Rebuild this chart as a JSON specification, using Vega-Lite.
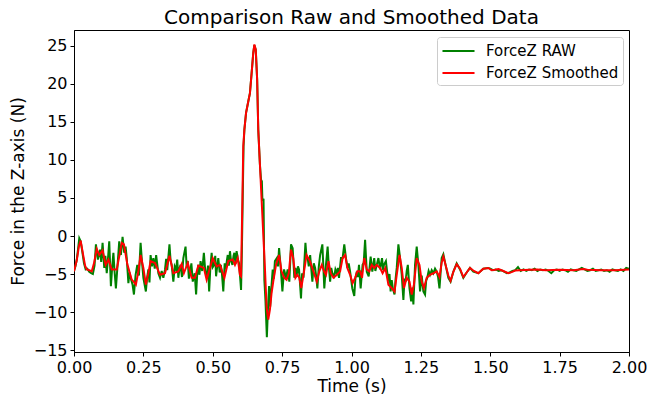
{
  "$schema": "https://vega.github.io/schema/vega-lite/v6.json",
  "autosize": "none",
  "width": 555,
  "height": 322,
  "padding": {"left": 74, "top": 30, "right": 34, "bottom": 45},
  "background": "white",
  "title": {"text": "Comparison Raw and Smoothed Data", "fontSize": 20, "fontWeight": "normal", "font": "DejaVu Sans", "color": "black", "offset": 2},
  "datasets": {
    "raw": [
      {"t":0.000,"v":-4.6},{"t":0.005,"v":-4.0},{"t":0.010,"v":-3.1},{"t":0.015,"v":-1.6},{"t":0.019,"v":-0.3},{"t":0.024,"v":-0.7},{"t":0.030,"v":-2.1},{"t":0.036,"v":-3.6},{"t":0.042,"v":-4.4},{"t":0.048,"v":-4.3},{"t":0.055,"v":-4.7},{"t":0.062,"v":-4.9},{"t":0.068,"v":-5.0},{"t":0.074,"v":-3.9},{"t":0.079,"v":-1.1},{"t":0.086,"v":-3.1},{"t":0.094,"v":-1.8},{"t":0.098,"v":-3.4},{"t":0.103,"v":-0.9},{"t":0.109,"v":-4.2},{"t":0.113,"v":-2.6},{"t":0.118,"v":-4.9},{"t":0.122,"v":-3.2},{"t":0.127,"v":-0.7},{"t":0.133,"v":-6.6},{"t":0.138,"v":-3.9},{"t":0.142,"v":-2.2},{"t":0.146,"v":-4.6},{"t":0.151,"v":-6.9},{"t":0.157,"v":-3.8},{"t":0.163,"v":-0.7},{"t":0.169,"v":-2.5},{"t":0.175,"v":-0.1},{"t":0.181,"v":-2.2},{"t":0.186,"v":-1.4},{"t":0.190,"v":-2.9},{"t":0.196,"v":-6.2},{"t":0.200,"v":-4.8},{"t":0.204,"v":-5.5},{"t":0.211,"v":-6.4},{"t":0.216,"v":-7.7},{"t":0.222,"v":-5.1},{"t":0.228,"v":-3.8},{"t":0.234,"v":-5.2},{"t":0.240,"v":-0.9},{"t":0.245,"v":-3.4},{"t":0.250,"v":-5.5},{"t":0.259,"v":-7.3},{"t":0.263,"v":-5.6},{"t":0.268,"v":-4.4},{"t":0.272,"v":-6.1},{"t":0.276,"v":-2.5},{"t":0.281,"v":-4.0},{"t":0.286,"v":-2.9},{"t":0.291,"v":-4.3},{"t":0.296,"v":-2.5},{"t":0.304,"v":-4.9},{"t":0.310,"v":-5.5},{"t":0.316,"v":-4.6},{"t":0.322,"v":-5.5},{"t":0.328,"v":-4.4},{"t":0.332,"v":-3.0},{"t":0.336,"v":-4.5},{"t":0.344,"v":-1.1},{"t":0.348,"v":-3.2},{"t":0.352,"v":-3.8},{"t":0.358,"v":-6.0},{"t":0.363,"v":-4.0},{"t":0.368,"v":-4.4},{"t":0.372,"v":-3.1},{"t":0.376,"v":-5.5},{"t":0.380,"v":-4.3},{"t":0.384,"v":-3.8},{"t":0.389,"v":-5.4},{"t":0.394,"v":-2.9},{"t":0.402,"v":-1.4},{"t":0.406,"v":-4.1},{"t":0.410,"v":-3.3},{"t":0.414,"v":-5.6},{"t":0.418,"v":-4.9},{"t":0.423,"v":-3.6},{"t":0.428,"v":-6.0},{"t":0.435,"v":-4.9},{"t":0.440,"v":-7.7},{"t":0.444,"v":-5.0},{"t":0.448,"v":-3.8},{"t":0.452,"v":-5.1},{"t":0.456,"v":-3.3},{"t":0.462,"v":-4.6},{"t":0.468,"v":-2.2},{"t":0.473,"v":-4.6},{"t":0.478,"v":-5.3},{"t":0.483,"v":-3.9},{"t":0.487,"v":-7.3},{"t":0.491,"v":-4.4},{"t":0.496,"v":-2.2},{"t":0.500,"v":-4.1},{"t":0.505,"v":-3.8},{"t":0.509,"v":-2.6},{"t":0.512,"v":-5.3},{"t":0.516,"v":-4.0},{"t":0.520,"v":-2.9},{"t":0.525,"v":-4.8},{"t":0.529,"v":-3.8},{"t":0.533,"v":-4.9},{"t":0.538,"v":-7.3},{"t":0.543,"v":-3.6},{"t":0.547,"v":-4.4},{"t":0.551,"v":-3.2},{"t":0.554,"v":-2.5},{"t":0.558,"v":-3.9},{"t":0.562,"v":-2.0},{"t":0.566,"v":-3.3},{"t":0.571,"v":-3.8},{"t":0.575,"v":-2.6},{"t":0.578,"v":-2.2},{"t":0.582,"v":-3.7},{"t":0.586,"v":-2.0},{"t":0.590,"v":-3.0},{"t":0.595,"v":-3.6},{"t":0.602,"v":-7.1},{"t":0.605,"v":-2.0},{"t":0.608,"v":5.0},{"t":0.611,"v":11.8},{"t":0.614,"v":14.0},{"t":0.620,"v":16.2},{"t":0.628,"v":17.7},{"t":0.634,"v":18.8},{"t":0.640,"v":21.4},{"t":0.646,"v":24.1},{"t":0.650,"v":25.1},{"t":0.655,"v":24.5},{"t":0.660,"v":20.6},{"t":0.664,"v":14.0},{"t":0.670,"v":9.4},{"t":0.674,"v":7.4},{"t":0.677,"v":7.2},{"t":0.679,"v":4.6},{"t":0.683,"v":4.9},{"t":0.686,"v":-5.8},{"t":0.690,"v":-8.5},{"t":0.695,"v":-13.3},{"t":0.699,"v":-9.5},{"t":0.703,"v":-6.6},{"t":0.707,"v":-9.3},{"t":0.711,"v":-6.9},{"t":0.716,"v":-4.4},{"t":0.720,"v":-5.6},{"t":0.724,"v":-3.3},{"t":0.731,"v":-2.9},{"t":0.735,"v":-4.0},{"t":0.739,"v":-1.6},{"t":0.745,"v":-4.2},{"t":0.751,"v":-7.3},{"t":0.757,"v":-4.4},{"t":0.764,"v":-5.5},{"t":0.770,"v":-4.4},{"t":0.776,"v":-6.0},{"t":0.782,"v":-1.1},{"t":0.788,"v":-1.6},{"t":0.794,"v":-5.5},{"t":0.798,"v":-4.2},{"t":0.803,"v":-5.3},{"t":0.807,"v":-4.0},{"t":0.811,"v":-4.4},{"t":0.818,"v":-8.2},{"t":0.822,"v":-4.9},{"t":0.827,"v":-5.5},{"t":0.834,"v":-0.9},{"t":0.838,"v":-2.8},{"t":0.842,"v":-2.9},{"t":0.846,"v":-4.0},{"t":0.851,"v":-2.5},{"t":0.855,"v":-4.3},{"t":0.859,"v":-6.0},{"t":0.864,"v":-3.6},{"t":0.869,"v":-4.2},{"t":0.873,"v":-5.4},{"t":0.877,"v":-6.9},{"t":0.882,"v":-4.1},{"t":0.887,"v":-2.5},{"t":0.895,"v":-1.1},{"t":0.902,"v":-6.9},{"t":0.908,"v":-3.8},{"t":0.914,"v":-1.4},{"t":0.918,"v":-3.9},{"t":0.923,"v":-6.0},{"t":0.927,"v":-4.2},{"t":0.931,"v":-4.9},{"t":0.938,"v":-5.3},{"t":0.942,"v":-4.4},{"t":0.947,"v":-4.9},{"t":0.951,"v":-4.2},{"t":0.955,"v":-5.5},{"t":0.962,"v":-2.9},{"t":0.968,"v":-2.9},{"t":0.974,"v":-1.1},{"t":0.980,"v":-2.9},{"t":0.986,"v":-4.2},{"t":0.990,"v":-3.6},{"t":0.995,"v":-4.7},{"t":1.003,"v":-6.9},{"t":1.010,"v":-7.9},{"t":1.014,"v":-5.6},{"t":1.019,"v":-4.7},{"t":1.023,"v":-5.4},{"t":1.027,"v":-3.8},{"t":1.033,"v":-6.9},{"t":1.040,"v":-3.8},{"t":1.044,"v":-3.5},{"t":1.049,"v":-0.5},{"t":1.055,"v":-4.7},{"t":1.062,"v":-5.3},{"t":1.069,"v":-2.7},{"t":1.075,"v":-4.7},{"t":1.082,"v":-2.9},{"t":1.086,"v":-4.6},{"t":1.091,"v":-3.8},{"t":1.097,"v":-2.9},{"t":1.103,"v":-4.4},{"t":1.110,"v":-2.9},{"t":1.114,"v":-4.5},{"t":1.117,"v":-3.8},{"t":1.124,"v":-3.3},{"t":1.128,"v":-4.6},{"t":1.133,"v":-6.0},{"t":1.137,"v":-5.0},{"t":1.141,"v":-7.3},{"t":1.145,"v":-5.8},{"t":1.149,"v":-6.9},{"t":1.155,"v":-7.7},{"t":1.159,"v":-5.6},{"t":1.163,"v":-4.2},{"t":1.169,"v":-1.1},{"t":1.175,"v":-2.9},{"t":1.181,"v":-5.1},{"t":1.187,"v":-8.4},{"t":1.191,"v":-5.6},{"t":1.195,"v":-6.0},{"t":1.199,"v":-4.6},{"t":1.203,"v":-3.8},{"t":1.209,"v":-6.9},{"t":1.215,"v":-8.6},{"t":1.219,"v":-6.8},{"t":1.223,"v":-9.0},{"t":1.229,"v":-3.8},{"t":1.235,"v":-1.4},{"t":1.241,"v":-3.8},{"t":1.247,"v":-7.3},{"t":1.253,"v":-5.2},{"t":1.259,"v":-7.3},{"t":1.265,"v":-7.7},{"t":1.269,"v":-5.9},{"t":1.273,"v":-5.5},{"t":1.278,"v":-4.6},{"t":1.283,"v":-5.1},{"t":1.289,"v":-4.5},{"t":1.295,"v":-4.9},{"t":1.301,"v":-4.3},{"t":1.307,"v":-4.7},{"t":1.312,"v":-5.4},{"t":1.317,"v":-6.9},{"t":1.325,"v":-2.9},{"t":1.331,"v":-2.4},{"t":1.339,"v":-3.8},{"t":1.349,"v":-5.5},{"t":1.357,"v":-6.0},{"t":1.367,"v":-4.7},{"t":1.379,"v":-3.6},{"t":1.391,"v":-4.4},{"t":1.403,"v":-5.5},{"t":1.415,"v":-4.8},{"t":1.427,"v":-4.2},{"t":1.439,"v":-4.7},{"t":1.457,"v":-4.9},{"t":1.475,"v":-4.3},{"t":1.493,"v":-4.2},{"t":1.50,"v":-4.3},{"t":1.51,"v":-4.5},{"t":1.52,"v":-4.4},{"t":1.53,"v":-4.6},{"t":1.54,"v":-4.5},{"t":1.55,"v":-4.7},{"t":1.56,"v":-4.9},{"t":1.57,"v":-4.8},{"t":1.58,"v":-4.6},{"t":1.59,"v":-4.5},{"t":1.60,"v":-4.1},{"t":1.61,"v":-4.6},{"t":1.62,"v":-4.4},{"t":1.63,"v":-4.6},{"t":1.64,"v":-4.4},{"t":1.65,"v":-4.5},{"t":1.66,"v":-4.3},{"t":1.67,"v":-4.6},{"t":1.68,"v":-4.4},{"t":1.69,"v":-4.5},{"t":1.70,"v":-4.4},{"t":1.71,"v":-4.6},{"t":1.72,"v":-4.9},{"t":1.73,"v":-4.5},{"t":1.74,"v":-4.4},{"t":1.75,"v":-4.6},{"t":1.76,"v":-4.4},{"t":1.77,"v":-4.5},{"t":1.78,"v":-4.7},{"t":1.79,"v":-4.4},{"t":1.80,"v":-4.5},{"t":1.81,"v":-4.6},{"t":1.82,"v":-4.4},{"t":1.83,"v":-4.2},{"t":1.84,"v":-4.4},{"t":1.85,"v":-4.6},{"t":1.86,"v":-4.5},{"t":1.87,"v":-4.3},{"t":1.88,"v":-4.6},{"t":1.89,"v":-4.5},{"t":1.90,"v":-4.4},{"t":1.91,"v":-4.6},{"t":1.92,"v":-4.5},{"t":1.93,"v":-4.7},{"t":1.94,"v":-4.4},{"t":1.95,"v":-4.5},{"t":1.96,"v":-4.6},{"t":1.97,"v":-4.4},{"t":1.98,"v":-4.6},{"t":1.99,"v":-4.2},{"t":2.00,"v":-4.3}
    ],
    "smooth": [
      {"t":0.000,"v":-4.65},{"t":0.010,"v":-3.2},{"t":0.018,"v":-1.3},{"t":0.024,"v":-0.6},{"t":0.032,"v":-2.3},{"t":0.040,"v":-3.9},{"t":0.046,"v":-4.4},{"t":0.055,"v":-4.5},{"t":0.064,"v":-4.65},{"t":0.072,"v":-3.6},{"t":0.082,"v":-1.7},{"t":0.091,"v":-2.5},{"t":0.103,"v":-1.9},{"t":0.114,"v":-3.8},{"t":0.124,"v":-3.1},{"t":0.136,"v":-4.4},{"t":0.154,"v":-4.4},{"t":0.164,"v":-2.5},{"t":0.172,"v":-0.9},{"t":0.180,"v":-1.1},{"t":0.192,"v":-3.7},{"t":0.208,"v":-5.75},{"t":0.214,"v":-5.97},{"t":0.223,"v":-6.4},{"t":0.232,"v":-4.65},{"t":0.240,"v":-2.5},{"t":0.250,"v":-4.2},{"t":0.259,"v":-6.4},{"t":0.268,"v":-4.9},{"t":0.276,"v":-3.3},{"t":0.292,"v":-3.55},{"t":0.310,"v":-5.1},{"t":0.328,"v":-4.9},{"t":0.344,"v":-2.6},{"t":0.358,"v":-4.9},{"t":0.376,"v":-4.65},{"t":0.388,"v":-3.7},{"t":0.396,"v":-4.9},{"t":0.410,"v":-3.55},{"t":0.424,"v":-5.5},{"t":0.436,"v":-5.5},{"t":0.448,"v":-3.9},{"t":0.468,"v":-4.2},{"t":0.478,"v":-5.75},{"t":0.500,"v":-2.9},{"t":0.514,"v":-4.0},{"t":0.526,"v":-3.8},{"t":0.542,"v":-5.5},{"t":0.556,"v":-3.3},{"t":0.572,"v":-3.1},{"t":0.580,"v":-3.8},{"t":0.590,"v":-2.9},{"t":0.598,"v":-5.1},{"t":0.602,"v":-5.3},{"t":0.607,"v":5.2},{"t":0.610,"v":11.8},{"t":0.614,"v":14.0},{"t":0.620,"v":16.2},{"t":0.628,"v":17.7},{"t":0.634,"v":18.8},{"t":0.640,"v":21.4},{"t":0.646,"v":24.1},{"t":0.650,"v":25.2},{"t":0.655,"v":24.5},{"t":0.660,"v":20.6},{"t":0.664,"v":14.0},{"t":0.670,"v":9.4},{"t":0.676,"v":4.8},{"t":0.682,"v":0.3},{"t":0.688,"v":-4.2},{"t":0.694,"v":-9.3},{"t":0.700,"v":-11.0},{"t":0.706,"v":-9.7},{"t":0.712,"v":-7.5},{"t":0.718,"v":-6.0},{"t":0.728,"v":-3.8},{"t":0.739,"v":-2.5},{"t":0.748,"v":-4.65},{"t":0.758,"v":-5.5},{"t":0.766,"v":-5.75},{"t":0.774,"v":-4.9},{"t":0.782,"v":-1.8},{"t":0.790,"v":-2.9},{"t":0.798,"v":-5.5},{"t":0.805,"v":-5.1},{"t":0.812,"v":-5.5},{"t":0.819,"v":-6.85},{"t":0.829,"v":-4.65},{"t":0.838,"v":-2.5},{"t":0.850,"v":-3.3},{"t":0.863,"v":-4.65},{"t":0.875,"v":-6.0},{"t":0.884,"v":-4.65},{"t":0.893,"v":-3.8},{"t":0.901,"v":-4.65},{"t":0.908,"v":-5.1},{"t":0.917,"v":-3.3},{"t":0.925,"v":-4.9},{"t":0.935,"v":-5.5},{"t":0.947,"v":-5.1},{"t":0.959,"v":-4.65},{"t":0.968,"v":-2.9},{"t":0.977,"v":-2.5},{"t":0.985,"v":-4.2},{"t":0.995,"v":-5.1},{"t":1.004,"v":-6.2},{"t":1.013,"v":-5.5},{"t":1.021,"v":-4.65},{"t":1.031,"v":-4.65},{"t":1.038,"v":-5.5},{"t":1.046,"v":-2.9},{"t":1.055,"v":-4.4},{"t":1.064,"v":-4.65},{"t":1.073,"v":-3.8},{"t":1.082,"v":-4.2},{"t":1.091,"v":-3.8},{"t":1.103,"v":-4.2},{"t":1.112,"v":-4.9},{"t":1.122,"v":-4.2},{"t":1.133,"v":-6.4},{"t":1.145,"v":-6.85},{"t":1.155,"v":-7.3},{"t":1.163,"v":-5.1},{"t":1.173,"v":-2.5},{"t":1.181,"v":-4.2},{"t":1.189,"v":-6.85},{"t":1.199,"v":-5.5},{"t":1.209,"v":-6.0},{"t":1.217,"v":-7.7},{"t":1.225,"v":-6.4},{"t":1.235,"v":-2.9},{"t":1.245,"v":-3.8},{"t":1.253,"v":-6.0},{"t":1.261,"v":-6.85},{"t":1.271,"v":-5.5},{"t":1.283,"v":-5.1},{"t":1.295,"v":-4.9},{"t":1.307,"v":-4.65},{"t":1.317,"v":-5.4},{"t":1.325,"v":-3.5},{"t":1.331,"v":-2.7},{"t":1.339,"v":-3.8},{"t":1.349,"v":-5.2},{"t":1.357,"v":-5.9},{"t":1.367,"v":-4.7},{"t":1.379,"v":-3.7},{"t":1.391,"v":-4.3},{"t":1.403,"v":-5.4},{"t":1.415,"v":-4.8},{"t":1.427,"v":-4.2},{"t":1.441,"v":-4.6},{"t":1.457,"v":-4.9},{"t":1.475,"v":-4.3},{"t":1.493,"v":-4.2},{"t":1.505,"v":-4.5},{"t":1.517,"v":-4.45},{"t":1.530,"v":-4.35},{"t":1.547,"v":-4.6},{"t":1.565,"v":-4.9},{"t":1.577,"v":-4.75},{"t":1.590,"v":-4.55},{"t":1.607,"v":-4.5},{"t":1.640,"v":-4.45},{"t":1.670,"v":-4.4},{"t":1.700,"v":-4.5},{"t":1.750,"v":-4.45},{"t":1.800,"v":-4.5},{"t":1.835,"v":-4.35},{"t":1.850,"v":-4.45},{"t":1.900,"v":-4.5},{"t":1.950,"v":-4.5},{"t":2.000,"v":-4.4}
    ]
  },
  "encoding": {
    "x": {"field": "t", "type": "quantitative", "scale": {"domain": [0, 2], "nice": false, "zero": false},
      "axis": {"title": "Time (s)", "values": [0, 0.25, 0.5, 0.75, 1, 1.25, 1.5, 1.75, 2], "format": ".2f", "labelFlush": false, "labelOverlap": false, "titlePadding": 3}},
    "y": {"field": "v", "type": "quantitative", "scale": {"domain": [-15.26, 27.1], "nice": false, "zero": false},
      "axis": {"title": "Force in the Z-axis (N)", "values": [-15, -10, -5, 0, 5, 10, 15, 20, 25], "format": "d", "labelFlush": false, "labelOverlap": false, "titlePadding": 6}}
  },
  "layer": [
    {"data": {"name": "raw"}, "mark": {"type": "line", "strokeWidth": 2, "clip": true, "interpolate": "linear"},
      "encoding": {"color": {"datum": "ForceZ RAW", "type": "nominal",
        "scale": {"domain": ["ForceZ RAW", "ForceZ Smoothed"], "range": ["#008000", "#ff0000"]},
        "legend": {"title": null, "orient": "none", "legendX": 363, "legendY": 7}}}},
    {"data": {"name": "smooth"}, "mark": {"type": "line", "strokeWidth": 2, "clip": true, "interpolate": "linear"},
      "encoding": {"color": {"datum": "ForceZ Smoothed", "type": "nominal"}}}
  ],
  "config": {
    "font": "DejaVu Sans",
    "view": {"stroke": "black", "strokeWidth": 1},
    "axis": {"grid": false, "domainColor": "black", "tickColor": "black", "tickSize": 4, "labelColor": "black", "labelFontSize": 16, "labelFont": "DejaVu Sans", "titleFont": "DejaVu Sans", "titleFontSize": 17, "titleFontWeight": "normal", "titleColor": "black", "labelPadding": 3},
    "legend": {"labelFontSize": 15, "labelFont": "DejaVu Sans", "labelColor": "black", "symbolType": "M-1.78,0H1.78", "symbolSize": 324, "symbolStrokeWidth": 2, "symbolOffset": 7.5, "strokeColor": "#cccccc", "fillColor": "rgba(255,255,255,0.8)", "cornerRadius": 3, "padding": 4, "rowPadding": 4, "labelOffset": 17.5}
  }
}
